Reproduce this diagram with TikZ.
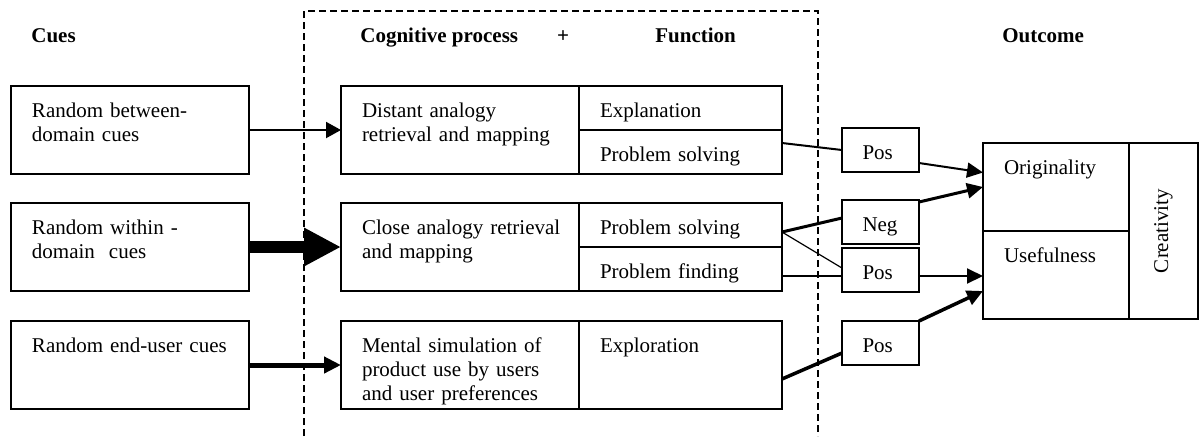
\documentclass[tikz,border=0pt]{standalone}
\usepackage{fontspec}
\setmainfont{Liberation Serif}
\usetikzlibrary{arrows.meta, positioning}

\tikzset{
    cell/.style={draw, line width=1pt, rectangle, anchor=north west, align=left,
        inner xsep=10.5pt, inner ysep=5pt, outer sep=0pt, text height=10.5pt,
        font=\fontsize{10.5}{12.2}\selectfont},
    wide/.style={cell, text width=98pt},
    func/.style={cell, text width=80.5pt},
    sign/.style={cell, text width=18pt, inner xsep=10.25pt, text depth=1.5pt},
    outc/.style={cell, text width=52pt, text depth=23.5pt},
    tall/.style={text depth=23.5pt},
    half/.style={text depth=1.5pt},
    head/.style={anchor=base west, inner sep=0pt, font=\fontsize{10.5}{12.2}\selectfont\bfseries},
    tip/.style={-{Triangle[length=8pt, width=7.5pt]}}
}

\begin{document}
\begin{tikzpicture}[x=0.5pt, y=-0.5pt]
    \useasboundingbox (0,0) rectangle (1200,436);

    \draw[line width=0.75pt, dash pattern=on 3.5pt off 2pt] (304,436) |- (818,11) -- (818,436);

    \node[head] (hcues) at (31,42) {Cues};
    \node[head] (hproc) at (360,42) {Cognitive process};
    \node[head, anchor=base] (hplus) at (563,42) {+};
    \node[head] (hfunc) at (655,42) {Function};
    \node[head] (hout) at (1002,42) {Outcome};

    \node[wide, tall] (cue1) at (11,86) {Random between-\\domain cues};
    \node[wide, tall] (cue2) at (11,203) {Random within -\\domain\ \ cues};
    \node[wide, tall] (cue3) at (11,321) {Random end-user cues};

    \node[wide, tall] (proc1) at (341,86) {Distant analogy\\retrieval and mapping};
    \node[wide, tall] (proc2) at (341,203) {\mbox{Close analogy retrieval}\\and mapping};
    \node[wide, tall] (proc3) at (341,321) {Mental simulation of\\product use by users\\and user preferences};

    \node[func, half] (fn11) at (proc1.north east) {Explanation};
    \node[func, half] (fn12) at (fn11.south west) {Problem solving};
    \node[func, half] (fn21) at (proc2.north east) {Problem solving};
    \node[func, half] (fn22) at (fn21.south west) {Problem finding};
    \node[func, tall] (fn3) at (proc3.north east) {Exploration};

    \node[sign] (pos1) at (842,128) {Pos};
    \node[sign] (neg) at (842,200) {Neg};
    \node[sign] (pos2) at (842,248) {Pos};
    \node[sign] (pos3) at (842,321) {Pos};

    \node[outc] (orig) at (983,143) {Originality};
    \node[outc] (usef) at (orig.south west) {Usefulness};
    \node[draw, line width=1pt, rotate=90, minimum width=88pt, minimum height=34.5pt,
        inner sep=0pt, outer sep=0pt, font=\fontsize{10.5}{12.2}\selectfont] (creat) at (1163.5,231) {Creativity};

    \draw[-{Triangle[length=7.5pt, width=8pt]}, line width=1pt] (cue1) -- (proc1);
    \draw[-{Triangle[length=18.5pt, width=18pt]}, line width=6pt] (cue2) -- (proc2);
    \draw[-{Triangle[length=8.5pt, width=8pt]}, line width=2.5pt] (cue3) -- (proc3);

    \draw[line width=1pt] ([yshift=4.5pt]fn12.east) -- (pos1.west);
    \draw[tip, line width=1pt] ([yshift=-6.5pt]pos1.east) -- ([yshift=7.25pt]orig.west);
    \draw[line width=1.5pt] ([yshift=-3.5pt]fn21.east) -- ([yshift=2pt]neg.west);
    \draw[tip, line width=1.5pt] ([yshift=-1pt]neg.north east) -- (orig.west);
    \draw[line width=0.6pt] ([yshift=-3.5pt]fn21.east) -- ([yshift=1pt]pos2.west);
    \draw[line width=1pt] ([yshift=-3pt]pos2.west -| fn22.east) -- ([yshift=-3pt]pos2.west);
    \draw[tip, line width=1pt] ([yshift=-3pt]pos2.east) -- ([yshift=-3pt]pos2.east -| usef.west);
    \draw[line width=1.75pt] ([yshift=-7pt]fn3.east) -- ([yshift=-5pt]pos3.west);
    \draw[tip, line width=1.75pt] (pos3.north east) -- ([yshift=-8pt]usef.west);
\end{tikzpicture}
\end{document}
